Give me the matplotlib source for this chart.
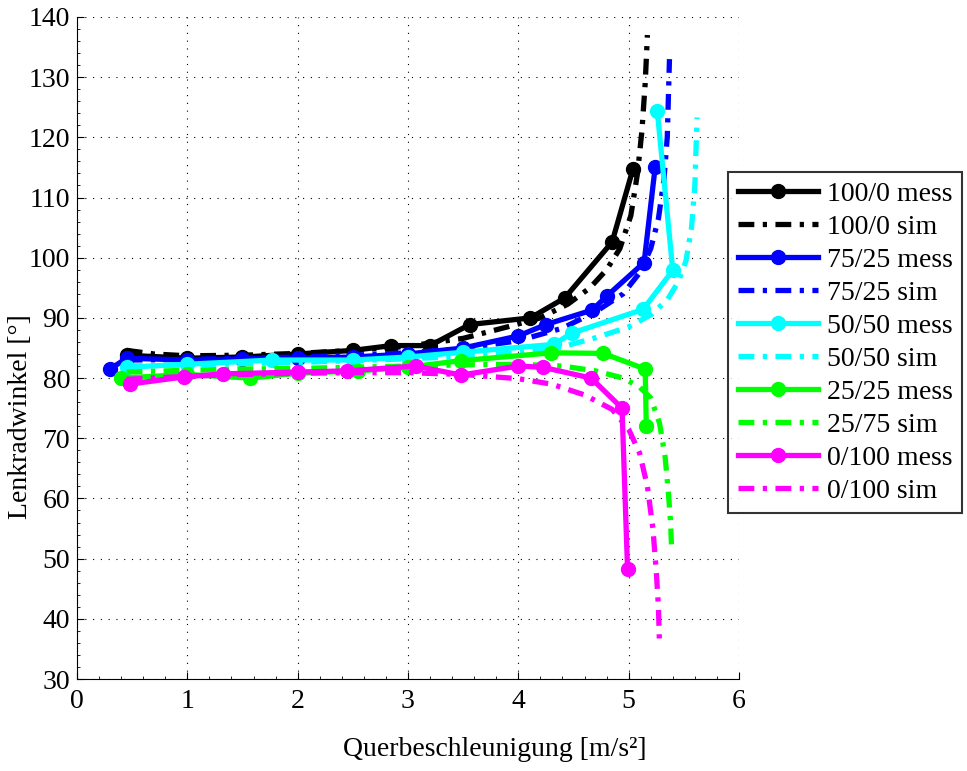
import matplotlib
matplotlib.use("Agg")
import matplotlib.pyplot as plt
from matplotlib.ticker import MultipleLocator

plt.rcParams["font.family"] = ["Liberation Serif", "DejaVu Serif"]

# measured curves (marker) and simulated curves (dash-dot)
x_100_0_mess = [0.45, 1.0, 1.5, 2.0, 2.5, 2.85, 3.2, 3.56, 4.11, 4.42, 4.85, 5.04]
y_100_0_mess = [83.8, 83.3, 83.5, 84.0, 84.6, 85.4, 85.4, 88.9, 90.0, 93.3, 102.6, 114.8]
x_100_0_sim = [0.45, 0.7, 1.0, 1.5, 2.0, 2.5, 3.0, 3.5, 3.9, 4.2, 4.45, 4.65, 4.8, 4.92, 5.02, 5.08, 5.12, 5.15, 5.17]
y_100_0_sim = [84.6, 84.0, 83.7, 83.8, 84.1, 84.6, 85.3, 86.6, 88.5, 90.0, 92.3, 95.0, 98.0, 101.5, 107.0, 114.0, 121.0, 129.0, 137.0]

x_75_25_mess = [0.3, 0.45, 1.0, 1.5, 2.0, 2.5, 3.0, 3.5, 4.0, 4.25, 4.67, 4.8, 5.14, 5.24]
y_75_25_mess = [81.5, 83.3, 83.0, 83.2, 83.3, 83.5, 84.0, 85.0, 87.0, 88.9, 91.3, 93.6, 99.2, 115.0]
x_75_25_sim = [0.45, 1.0, 1.5, 2.0, 2.5, 3.0, 3.5, 4.0, 4.4, 4.7, 4.95, 5.1, 5.2, 5.27, 5.32, 5.35, 5.37]
y_75_25_sim = [83.0, 83.1, 83.3, 83.5, 83.8, 84.2, 84.9, 86.2, 88.3, 91.0, 94.0, 97.5, 101.5, 106.5, 113.0, 120.0, 133.0]

x_50_50_mess = [0.45, 1.0, 1.77, 2.5, 3.0, 3.5, 4.32, 4.49, 5.13, 5.40, 5.26]
y_50_50_mess = [81.8, 82.3, 83.0, 83.0, 83.5, 84.3, 85.6, 87.5, 91.4, 97.9, 124.3]
x_50_50_sim = [0.45, 1.0, 1.5, 2.0, 2.5, 3.0, 3.5, 4.0, 4.4, 4.7, 5.0, 5.2, 5.35, 5.45, 5.52, 5.57, 5.6, 5.62]
y_50_50_sim = [82.0, 82.2, 82.4, 82.6, 82.9, 83.2, 83.6, 84.2, 85.2, 86.7, 88.5, 90.5, 93.0, 96.0, 99.5, 105.0, 112.0, 123.3]

x_25_25_mess = [0.4, 1.0, 1.57, 2.0, 2.55, 3.0, 3.48, 4.3, 4.77, 5.15, 5.16]
y_25_25_mess = [80.0, 80.6, 80.0, 80.8, 81.2, 81.8, 82.9, 84.2, 84.1, 81.5, 72.0]
x_25_75_sim = [0.45, 1.0, 1.5, 2.0, 2.5, 3.0, 3.5, 4.0, 4.4, 4.7, 4.95, 5.1, 5.2, 5.28, 5.33, 5.36, 5.38, 5.39]
y_25_75_sim = [81.0, 81.3, 81.5, 81.6, 81.8, 82.0, 82.2, 82.3, 82.0, 81.2, 80.0, 78.5, 76.7, 72.5, 67.0, 61.0, 56.0, 51.3]

x_0_100_mess = [0.48, 0.97, 1.32, 2.0, 2.45, 3.07, 3.48, 4.0, 4.22, 4.66, 4.94, 4.99]
y_0_100_mess = [79.0, 80.2, 80.7, 81.0, 81.2, 82.0, 80.5, 82.0, 81.8, 80.0, 75.0, 48.3]
x_0_100_sim = [0.45, 1.0, 1.5, 2.0, 2.5, 3.0, 3.5, 4.0, 4.3, 4.6, 4.85, 5.0, 5.1, 5.17, 5.22, 5.25, 5.27, 5.28]
y_0_100_sim = [79.8, 80.3, 80.6, 80.8, 80.9, 80.9, 80.6, 79.9, 79.0, 77.2, 74.8, 71.5, 67.5, 62.0, 55.0, 48.0, 42.0, 35.5]

series = [
    ("100/0 mess", x_100_0_mess, y_100_0_mess, "k", True),
    ("100/0 sim", x_100_0_sim, y_100_0_sim, "k", False),
    ("75/25 mess", x_75_25_mess, y_75_25_mess, "#0000ff", True),
    ("75/25 sim", x_75_25_sim, y_75_25_sim, "#0000ff", False),
    ("50/50 mess", x_50_50_mess, y_50_50_mess, "#00ffff", True),
    ("50/50 sim", x_50_50_sim, y_50_50_sim, "#00ffff", False),
    ("25/25 mess", x_25_25_mess, y_25_25_mess, "#00ff00", True),
    ("25/75 sim", x_25_75_sim, y_25_75_sim, "#00ff00", False),
    ("0/100 mess", x_0_100_mess, y_0_100_mess, "#ff00ff", True),
    ("0/100 sim", x_0_100_sim, y_0_100_sim, "#ff00ff", False),
]

fig = plt.figure(figsize=(9.67, 7.71), dpi=100)
ax = fig.add_axes([0.0796, 0.1193, 0.6846, 0.8587])

for label, xs, ys, col, meas in series:
    if meas:
        ax.plot(xs, ys, "-", color=col, lw=3.8, marker="o", ms=10, label=label)
    else:
        ax.plot(xs, ys, color=col, lw=3.8, linestyle=(0, (3.0, 1.6, 0.8, 1.6)), label=label)

ax.set_xlim(0, 6)
ax.set_ylim(30, 140)
ax.xaxis.set_major_locator(MultipleLocator(1))
ax.yaxis.set_major_locator(MultipleLocator(10))
ax.xaxis.set_minor_locator(MultipleLocator(0.2))
ax.yaxis.set_minor_locator(MultipleLocator(2))
ax.grid(True, which="major", linestyle=(0, (1, 6)), color="k", lw=0.8)
ax.spines["top"].set_visible(False)
ax.spines["right"].set_visible(False)
ax.tick_params(which="major", direction="in", length=5, labelsize=20, pad=7)
ax.tick_params(axis="y", which="major", pad=5)
ax.tick_params(which="minor", direction="in", length=2.5)

ax.set_xlabel("Querbeschleunigung [m/s²]", fontsize=20)
ax.set_ylabel("Lenkradwinkel [°]", fontsize=20)
ax.xaxis.set_label_coords(0.631, -0.088)
ax.yaxis.set_label_coords(-0.067, 0.397)

leg = fig.legend(loc="upper left", bbox_to_anchor=(0.753, 0.777), bbox_transform=fig.transFigure,
                 fontsize=20, numpoints=1, handlelength=2.9, handletextpad=0.3,
                 labelspacing=0.27, borderaxespad=0, borderpad=0.35, fancybox=False)
leg.get_frame().set_edgecolor("k")
leg.get_frame().set_linewidth(1.5)

fig.savefig("out.png", dpi=100)
